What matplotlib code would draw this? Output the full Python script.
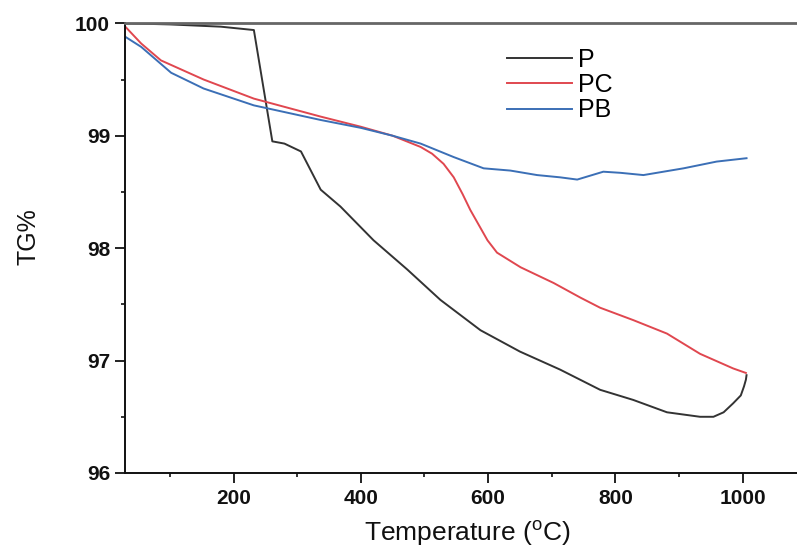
import matplotlib
matplotlib.use("Agg")
import matplotlib.pyplot as plt
from matplotlib.ticker import MultipleLocator

plt.rcParams['font.family'] = ['Liberation Sans', 'DejaVu Sans']
plt.rcParams['mathtext.fontset'] = 'custom'
plt.rcParams['mathtext.rm'] = 'Liberation Sans'

# Data
p_temp = [30, 100, 180, 232, 261, 280, 306, 337, 368, 420, 473, 525, 588, 650, 713,
          776, 828, 881, 933, 954, 970, 985, 997, 1002, 1005, 1006]
p_tg = [100.0, 99.99, 99.97, 99.94, 98.95, 98.93, 98.86, 98.52, 98.37, 98.07, 97.81,
        97.54, 97.27, 97.08, 96.92, 96.74, 96.65, 96.54, 96.50, 96.50, 96.54, 96.62,
        96.69, 96.77, 96.83, 96.87]

pc_temp = [30, 55, 86, 153, 232, 337, 400, 450, 494, 512, 530, 546, 560, 572, 586, 599,
           614, 651, 703, 745, 776, 828, 881, 933, 985, 1005]
pc_tg = [99.97, 99.82, 99.67, 99.50, 99.33, 99.17, 99.08, 99.00, 98.90, 98.84, 98.75,
         98.63, 98.48, 98.34, 98.20, 98.07, 97.96, 97.83, 97.69, 97.56, 97.47, 97.36,
         97.24, 97.06, 96.93, 96.89]

pb_temp = [30, 55, 102, 153, 232, 337, 400, 450, 494, 546, 593, 635, 677, 713, 740,
           781, 808, 844, 907, 959, 1006]
pb_tg = [99.88, 99.79, 99.56, 99.42, 99.27, 99.14, 99.07, 99.00, 98.93, 98.81, 98.71,
         98.69, 98.65, 98.63, 98.61, 98.68, 98.67, 98.65, 98.71, 98.77, 98.80]

labels = ['P', 'PC', 'PB']
colors = ['#333333', '#e0474f', '#3b6fb6']

W, H = 797, 547
fig = plt.figure(figsize=(W / 100, H / 100), dpi=100)
left, right, top, bottom = 125.3, 800.0, 23.3, 473.0
ax = fig.add_axes([left / W, 1 - bottom / H, (right - left) / W, (bottom - top) / H])

for t, v, lab, c in zip([p_temp, pc_temp, pb_temp], [p_tg, pc_tg, pb_tg], labels, colors):
    ax.plot(t, v, color=c, lw=1.4, label=lab)

ax.set_xlim(30, 1090)
ax.set_ylim(96, 100)
ax.xaxis.set_major_locator(MultipleLocator(200))
ax.xaxis.set_minor_locator(MultipleLocator(100))
ax.yaxis.set_major_locator(MultipleLocator(1))
ax.yaxis.set_minor_locator(MultipleLocator(0.5))

ax.spines['right'].set_visible(False)
ax.spines['top'].set_color('#666666')
ax.spines['top'].set_linewidth(2.0)
for s in ['left', 'bottom']:
    ax.spines[s].set_linewidth(1.4)
    ax.spines[s].set_color('#111111')

ax.tick_params(which='major', direction='out', length=7.5, width=1.3, pad=3.5,
               labelsize=15, colors='#111111')
ax.tick_params(which='minor', direction='out', length=3, width=1.2, colors='#111111')
ax.tick_params(axis='x', which='major', pad=4)
for lab in ax.get_xticklabels() + ax.get_yticklabels():
    lab.set_fontweight('bold')

ax.set_xlabel('Temperature ($^{\\rm o}$C)', fontsize=19, color='#111111')
ax.set_ylabel('TG%', fontsize=18, color='#111111')
ax.xaxis.set_label_coords((467 - left) / (right - left), (bottom - 518) / (bottom - top))
ax.yaxis.set_label_coords((41 - left) / (right - left), (bottom - 237) / (bottom - top))

ax.legend(loc='center left', bbox_to_anchor=(507 / W, 1 - 85 / H),
          bbox_transform=fig.transFigure, frameon=False, borderpad=0,
          borderaxespad=0, fontsize=18, handlelength=2.6, handletextpad=0.25,
          labelspacing=0.05)

fig.savefig('out.png', dpi=100)
